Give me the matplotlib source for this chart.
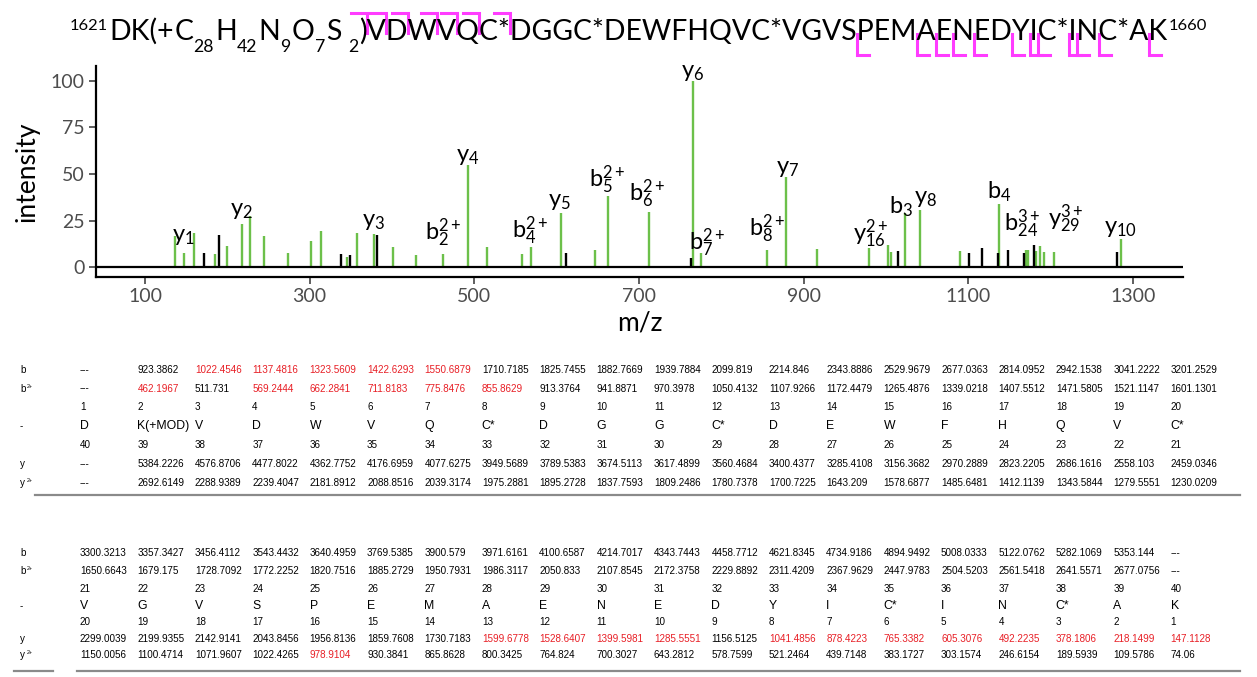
import matplotlib
matplotlib.use('Agg')
import matplotlib.pyplot as plt
from matplotlib.font_manager import FontProperties
from matplotlib.transforms import IdentityTransform
from matplotlib.lines import Line2D

FONT = 'Lato'
TFONT = 'Liberation Sans'
plt.rcParams['font.family'] = [FONT, 'DejaVu Sans']
plt.rcParams['mathtext.fontset'] = 'custom'
plt.rcParams['mathtext.rm'] = FONT
plt.rcParams['mathtext.it'] = FONT + ':italic'
plt.rcParams['mathtext.bf'] = FONT + ':bold'

# ---------------- data ----------------
start_pos = 1621
end_pos = 1660
mod_formula = [('C', '28'), ('H', '42'), ('N', '9'), ('O', '7'), ('S', '2')]
peptide = ['D', 'K', 'V', 'D', 'W', 'V', 'Q', 'C*', 'D', 'G', 'G', 'C*', 'D', 'E', 'W',
           'F', 'H', 'Q', 'V', 'C*', 'V', 'G', 'V', 'S', 'P', 'E', 'M', 'A', 'E', 'N',
           'E', 'D', 'Y', 'I', 'C*', 'I', 'N', 'C*', 'A', 'K']
b_cleavages = [2, 3, 4, 5, 6, 7, 8]
y_cleavages = [1, 3, 4, 5, 6, 7, 8, 10, 11, 12, 13, 16]

matched_mz = [136.3, 147.1, 159.6, 185.1, 199.4, 218.1, 227.9, 244.3, 274.1, 302.2,
              314.3, 345.8, 357.9, 378.2, 401.1, 428.8, 462.2, 492.2, 515.6, 557.5,
              569.2, 605.3, 646.9, 662.3, 711.8, 765.3, 775.8, 855.9, 878.4, 916.5,
              978.9, 1003.0, 1005.6, 1022.5, 1041.5, 1089.7, 1137.5, 1170.6, 1172.8,
              1181.8, 1187.5, 1192.3, 1204.4, 1285.6]
matched_int = [16.7, 7.8, 18.5, 7.3, 11.4, 23.5, 27.4, 17.1, 7.8, 14.1,
               19.4, 5.5, 18.5, 18.0, 10.9, 6.8, 7.1, 54.8, 10.9, 7.3,
               11.2, 29.4, 9.3, 38.4, 29.7, 100.0, 7.8, 9.6, 48.2, 10.1,
               10.5, 11.9, 8.5, 29.2, 31.0, 8.9, 34.2, 9.3, 9.6,
               8.7, 11.4, 8.5, 8.2, 15.3]
unmatched_mz = [171.7, 189.4, 338.5, 349.3, 382.1, 611.9, 763.6, 1014.7, 1101.3,
                1116.5, 1136.0, 1148.1, 1167.2, 1179.3, 1280.2]
unmatched_int = [7.5, 17.4, 7.1, 6.8, 17.3, 7.7, 5.2, 8.7, 7.5,
                 10.5, 7.8, 9.1, 7.8, 12.1, 8.2]

ion_type = ['y', 'y', 'y', 'b', 'y', 'b', 'y', 'b', 'b', 'y', 'b', 'b', 'y', 'y', 'b', 'y', 'b', 'b', 'y', 'y']
ion_num = [1, 2, 3, 2, 4, 4, 5, 5, 6, 6, 7, 8, 7, 16, 3, 8, 4, 24, 29, 10]
ion_charge = ['', '', '', '2+', '', '2+', '', '2+', '2+', '', '2+', '2+', '', '2+', '', '', '', '3+', '3+', '']

x_ticks = [100, 300, 500, 700, 900, 1100, 1300]
y_ticks = [0, 25, 50, 75, 100]

b_vals = ['---', '923.3862', '1022.4546', '1137.4816', '1323.5609', '1422.6293', '1550.6879', '1710.7185',
          '1825.7455', '1882.7669', '1939.7884', '2099.819', '2214.846', '2343.8886', '2529.9679', '2677.0363',
          '2814.0952', '2942.1538', '3041.2222', '3201.2529', '3300.3213', '3357.3427', '3456.4112', '3543.4432',
          '3640.4959', '3769.5385', '3900.579', '3971.6161', '4100.6587', '4214.7017', '4343.7443', '4458.7712',
          '4621.8345', '4734.9186', '4894.9492', '5008.0333', '5122.0762', '5282.1069', '5353.144', '---']
b2_vals = ['---', '462.1967', '511.731', '569.2444', '662.2841', '711.8183', '775.8476', '855.8629',
           '913.3764', '941.8871', '970.3978', '1050.4132', '1107.9266', '1172.4479', '1265.4876', '1339.0218',
           '1407.5512', '1471.5805', '1521.1147', '1601.1301', '1650.6643', '1679.175', '1728.7092', '1772.2252',
           '1820.7516', '1885.2729', '1950.7931', '1986.3117', '2050.833', '2107.8545', '2172.3758', '2229.8892',
           '2311.4209', '2367.9629', '2447.9783', '2504.5203', '2561.5418', '2641.5571', '2677.0756', '---']
y_vals = ['---', '5384.2226', '4576.8706', '4477.8022', '4362.7752', '4176.6959', '4077.6275', '3949.5689',
          '3789.5383', '3674.5113', '3617.4899', '3560.4684', '3400.4377', '3285.4108', '3156.3682', '2970.2889',
          '2823.2205', '2686.1616', '2558.103', '2459.0346', '2299.0039', '2199.9355', '2142.9141', '2043.8456',
          '1956.8136', '1859.7608', '1730.7183', '1599.6778', '1528.6407', '1399.5981', '1285.5551', '1156.5125',
          '1041.4856', '878.4223', '765.3382', '605.3076', '492.2235', '378.1806', '218.1499', '147.1128']
y2_vals = ['---', '2692.6149', '2288.9389', '2239.4047', '2181.8912', '2088.8516', '2039.3174', '1975.2881',
           '1895.2728', '1837.7593', '1809.2486', '1780.7378', '1700.7225', '1643.209', '1578.6877', '1485.6481',
           '1412.1139', '1343.5844', '1279.5551', '1230.0209', '1150.0056', '1100.4714', '1071.9607', '1022.4265',
           '978.9104', '930.3841', '865.8628', '800.3425', '764.824', '700.3027', '643.2812', '578.7599',
           '521.2464', '439.7148', '383.1727', '303.1574', '246.6154', '189.5939', '109.5786', '74.06']
table_residues = ['D', 'K(+MOD)', 'V', 'D', 'W', 'V', 'Q', 'C*', 'D', 'G', 'G', 'C*', 'D', 'E', 'W',
                  'F', 'H', 'Q', 'V', 'C*', 'V', 'G', 'V', 'S', 'P', 'E', 'M', 'A', 'E', 'N',
                  'E', 'D', 'Y', 'I', 'C*', 'I', 'N', 'C*', 'A', 'K']
red_b = [3, 4, 5, 6, 7]
red_b2 = [2, 4, 5, 6, 7, 8]
red_y = [28, 29, 30, 31, 33, 34, 35, 36, 37, 38, 39, 40]
red_y2 = [25]

# ---------------- layout / style ----------------
W, H = 1257, 677
GREEN = '#6cc04a'
MAGENTA = '#ff3cff'
RED = '#e81e25'
NUM_FS = 7.1
RES_FS = 8.8
fig = plt.figure(figsize=(W / 100, H / 100), dpi=100)
renderer = fig.canvas.get_renderer()
PIX = IdentityTransform()


def tw(s, size, family=FONT):
    fp = FontProperties(family=family, size=size)
    w, h, d = renderer.get_text_width_height_descent(s, fp, ismath=False)
    return w


def ptext(x, ytop, s, size, family=FONT, color='black', **kw):
    return fig.text(x, H - ytop, s, transform=PIX, fontsize=size, family=family,
                    color=color, **kw)


# ---------------- title with fragment brackets ----------------
rest = ')' + ''.join(peptide[2:])


def title_pieces(fs):
    sub = fs * 0.62
    sup = fs * 0.58
    pcs = [(str(start_pos), 'sup', sup, fs * 0.08),
           (peptide[0] + peptide[1] + '(+', 'main', fs, fs * 0.02)]
    for el, n in mod_formula:
        pcs.append((el, 'main', fs, fs * 0.0))
        pcs.append((n, 'sub', sub, fs * 0.06))
    pcs.append((rest, 'main', fs, fs * 0.04))
    pcs.append((str(end_pos), 'sup', sup, 0))
    return pcs


def total_width(fs):
    t = 0
    for s, k, sz, g in title_pieces(fs):
        t += tw(s, sz) + g
    return t


fs0 = 18.0
fs = fs0 * (1128.0 / total_width(fs0))
x = 70.0
base = 40.0
rest_x0 = None
for i, (s, k, sz, g) in enumerate(title_pieces(fs)):
    if k == 'main':
        yb = base
    elif k == 'sub':
        yb = base + 12.5
    else:
        yb = base - 9.5
    if i == len(mod_formula) * 2 + 1 and k == 'sub':
        x += fs * 0.3
    if s == rest:
        rest_x0 = x
    ptext(x, yb, s, sz, ha='left', va='baseline')
    x += tw(s, sz) + g


def cut_x(i):
    # boundary after residue i (1-based), i >= 2
    pre = ')' + ''.join(peptide[2:i])
    nxt = peptide[i]
    end_i = rest_x0 + tw(pre, fs)
    start_n = rest_x0 + tw(pre + nxt, fs) - tw(nxt, fs)
    return 0.5 * (end_i + start_n)


for i in b_cleavages:
    cx = cut_x(i)
    fig.add_artist(Line2D([cx - 16, cx, cx], [H - 12.5, H - 12.5, H - 33],
                          transform=PIX, color=MAGENTA, lw=2.2, solid_joinstyle='miter'))
for n in y_cleavages:
    cx = cut_x(len(peptide) - n)
    fig.add_artist(Line2D([cx, cx, cx + 12], [H - 34, H - 55, H - 55],
                          transform=PIX, color=MAGENTA, lw=2.2, solid_joinstyle='miter'))

# ---------------- spectrum ----------------
ax = fig.add_axes([96 / W, (H - 277) / H, (1183 - 96) / W, (277 - 66) / H])
ax.set_xlim(40.5, 1360.7)
ax.set_ylim(-5.1, 107.9)
ax.vlines(matched_mz, 0, matched_int, color=GREEN, lw=1.7, zorder=2)
ax.vlines(unmatched_mz, 0, unmatched_int, color='black', lw=1.7, zorder=2)
ax.axhline(0, color='black', lw=1.6, zorder=3)
for sp in ['top', 'right']:
    ax.spines[sp].set_visible(False)
for sp in ['left', 'bottom']:
    ax.spines[sp].set_linewidth(1.6)
    ax.spines[sp].set_color('black')
ax.set_xticks(x_ticks)
ax.set_yticks(y_ticks)
ax.tick_params(length=5, width=1.1, color='#333333', labelsize=14, labelcolor='#4d4d4d', pad=3)
ax.set_xlabel('m/z', fontsize=19, labelpad=4)
ax.set_ylabel('intensity', fontsize=19, labelpad=8)

# label layout (mz center, baseline intensity)
lab_x = [146.2, 217.5, 377.3, 461.6, 491.8, 568.3, 603.7, 661.2, 709.8, 764.9,
         782.7, 855.3, 880.0, 980.8, 1018.0, 1047.7, 1137.6, 1165.8, 1217.9, 1284.3]
lab_y = [14.0, 28.3, 22.0, 15.0, 56.8, 15.8, 32.7, 43.4, 35.4, 102.0,
         9.6, 16.7, 50.5, 14.0, 29.2, 34.5, 37.2, 19.4, 22.0, 18.5]
for t, n, c, lx, ly in zip(ion_type, ion_num, ion_charge, lab_x, lab_y):
    if c:
        s = r'$\mathrm{%s}_{%d}^{%s}$' % (t, n, c)
    else:
        s = r'$\mathrm{%s}_{%d}$' % (t, n)
    ax.text(lx, ly, s, fontsize=17, ha='center', va='baseline', zorder=4, clip_on=False)

# ---------------- tables ----------------
row_labels = [('b', ''), ('b', '2+'), ('', ''), ('-', ''), ('', ''), ('y', ''), ('y', '2+')]


def draw_table(cols, rows_y, line_y, line_segs):
    for (lab, sup), ry in zip(row_labels, rows_y):
        if lab:
            ptext(20, ry, lab, NUM_FS, family=TFONT, va='center', ha='left')
            if sup:
                ptext(20 + tw(lab, NUM_FS, TFONT) + 1.5, ry - 2.5, sup, 3.8, family=TFONT,
                      va='center', ha='left')
    for j, c in enumerate(cols):
        cx = 80 + j * 57.4
        idx = c + 1
        ptext(cx, rows_y[0], b_vals[c], NUM_FS, family=TFONT, va='center',
              color=RED if idx in red_b else 'black')
        ptext(cx, rows_y[1], b2_vals[c], NUM_FS, family=TFONT, va='center',
              color=RED if idx in red_b2 else 'black')
        ptext(cx, rows_y[2], str(idx), NUM_FS, family=TFONT, va='center')
        ptext(cx, rows_y[3], table_residues[c], RES_FS, family=TFONT, va='center')
        ptext(cx, rows_y[4], str(len(peptide) + 1 - idx), NUM_FS, family=TFONT, va='center')
        ptext(cx, rows_y[5], y_vals[c], NUM_FS, family=TFONT, va='center',
              color=RED if idx in red_y else 'black')
        ptext(cx, rows_y[6], y2_vals[c], NUM_FS, family=TFONT, va='center',
              color=RED if idx in red_y2 else 'black')
    for x0, x1 in line_segs:
        fig.add_artist(Line2D([x0, x1], [H - line_y, H - line_y], transform=PIX,
                              color='#8a8a8a', lw=1.6))


draw_table(list(range(0, 20)), [370, 388.5, 407, 426, 445, 464, 483], 495, [(35, 1240)])
draw_table(list(range(20, 40)), [553, 571, 589, 606, 622, 638.5, 655], 671, [(14, 53), (77, 1240)])

fig.savefig('out.png', dpi=100)
